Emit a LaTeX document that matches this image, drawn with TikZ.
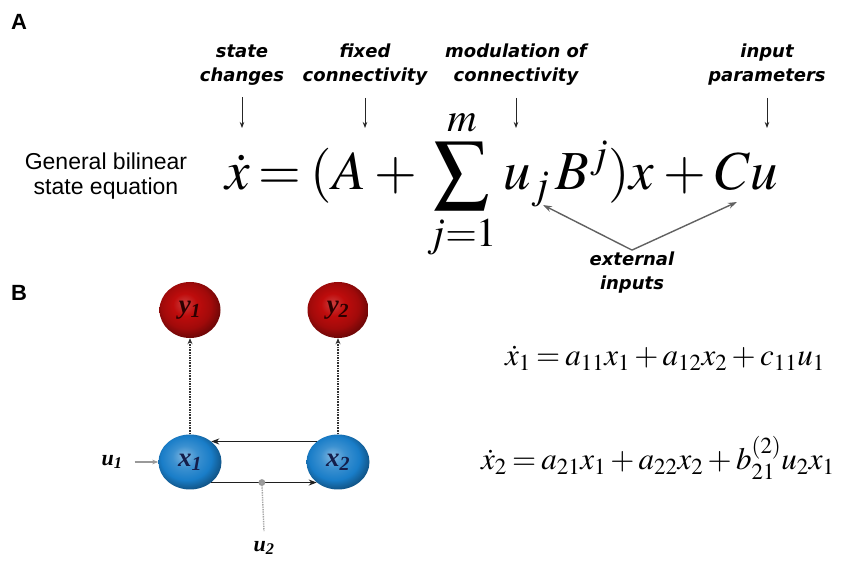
\documentclass[tikz,border=0pt]{standalone}
\usepackage{mathptmx}
\usepackage[no-math]{fontspec}
\newfontfamily\lblfont{DejaVu Sans}
\newfontfamily\arl{Liberation Sans}
\newfontfamily\tms{Liberation Serif}
\usetikzlibrary{arrows.meta, positioning, shapes.geometric}
\definecolor{cX}{RGB}{ 25,125,200}
\definecolor{cY}{RGB}{190, 12, 12}
\definecolor{cTx}{RGB}{ 20, 30, 75}
\definecolor{cTy}{RGB}{ 45,  0,  0}
\pgfdeclareradialshading{xball}{\pgfqpoint{-5bp}{6bp}}{%
  color(0bp)=(cX!55!white); color(10bp)=(cX!85!white);
  color(20bp)=(cX); color(27bp)=(cX!70!black); color(50bp)=(cX!40!black)}
\pgfdeclareradialshading{yball}{\pgfqpoint{-5bp}{6bp}}{%
  color(0bp)=(cY!80!white); color(10bp)=(cY);
  color(20bp)=(cY!85!black); color(27bp)=(cY!60!black); color(50bp)=(cY!40!black)}
\tikzset{
  an/.style={font=\lblfont\bfseries\itshape\fontsize{18}{24}\selectfont,
             align=center, inner sep=0pt},
  hd/.style={font=\arl\bfseries\fontsize{22}{24}\selectfont, inner sep=0pt},
  st/.style={ellipse, shading=xball, minimum width=63pt, minimum height=55pt,
             inner sep=0pt, text=cTx, font=\tms\bfseries\itshape\fontsize{27}{27}\selectfont},
  ob/.style={ellipse, shading=yball, minimum width=61pt, minimum height=56pt,
             inner sep=0pt, text=cTy, font=\tms\bfseries\itshape\fontsize{27}{27}\selectfont},
  vl/.style={font=\tms\bfseries\itshape\fontsize{22}{22}\selectfont, inner sep=2pt},
  sa/.style={-{Stealth[length=6pt, width=4.5pt]}, line width=0.8pt, draw=black!85},
  fa/.style={-{Stealth[length=8pt, width=6pt]}, line width=1.8pt, draw=black!88},
  da/.style={-{Stealth[length=6pt, width=5pt]}, line width=1.6pt,
             draw=black!80, densely dotted},
  ga/.style={-{Stealth[length=6pt, width=4.5pt]}, line width=1.1pt, draw=black!40},
  ea/.style={-{Stealth[length=9pt, width=6pt]}, line width=1.4pt, draw=black!62},
  eqn/.style={anchor=base west, inner sep=0pt},
}

\begin{document}
\begin{tikzpicture}[x=1pt, y=1pt]
\useasboundingbox[fill=white] (0,0) rectangle (847,-561);

%% ── Panel A ──────────────────────────────────────────────────────────────────
\node[hd, anchor=west] (pa) at (11,-22) {A};

\node[an] (chg) at (242,-65) {state\\changes};
\node[an] (fix) at (365,-65) {fixed\\connectivity};
\node[an] (mod) at (516,-65) {modulation of\\connectivity};
\node[an] (inp) at (767,-65) {input\\parameters};

\coordinate (tChg) at (242,-128);
\coordinate (tFix) at (365,-128);
\coordinate (tMod) at (516,-128);
\coordinate (tInp) at (767,-128);

\draw[sa] ([yshift=-12pt]chg.south) -- (tChg);
\draw[sa] ([yshift=-12pt]fix.south) -- (tFix);
\draw[sa] ([yshift=-12pt]mod.south) -- (tMod);
\draw[sa] ([yshift=-12pt]inp.south) -- (tInp);

\node[font=\arl\fontsize{23}{25}\selectfont, align=center, inner sep=0pt]
  (gen) at (106,-176) {General bilinear\\state equation};

\node[eqn, font=\fontsize{55}{60}\selectfont] (eq) at (225,-190)
  {$\thickmuskip=3mu \medmuskip=3mu
    \displaystyle \dot{x} = (A+\sum_{j=1}^{m} u_{j}\,B^{j})x + Cu$};

%% ── External inputs ──────────────────────────────────────────────────────────
\node[an] (ext) at (632,-273) {external\\inputs};
\coordinate (tUj) at (543,-205);
\coordinate (tCu) at (737,-202);
\draw[ea] ([yshift=2pt]ext.north) -- (tUj);
\draw[ea] ([yshift=2pt]ext.north) -- (tCu);

%% ── Panel B ──────────────────────────────────────────────────────────────────
\node[hd, anchor=west] (pb) at (11,-293) {B};

\node[ob] (y1) at (190,-310) {y\textsubscript{1}};
\node[ob] (y2) at (338,-310) {y\textsubscript{2}};
\node[st] (x1) at (190,-462) {x\textsubscript{1}};
\node[st] (x2) at (338,-462) {x\textsubscript{2}};

\draw[da] (x1.north) -- (y1.south);
\draw[da] (x2.north) -- (y2.south);

\draw[fa] (x2.136) -- (x1.44);
\draw[fa] (x1.-44) -- coordinate[pos=0.48] (m2) (x2.-136);
\fill[black!40] (m2) circle (3.4pt);

\node[vl] (u1) at (112,-462) {u\textsubscript{1}};
\node[vl] (u2) at (264,-548) {u\textsubscript{2}};
\draw[ga] ([xshift=10pt]u1.east) -- (x1.west);
\draw[line width=1.4pt, draw=black!35, densely dotted] (m2) -- ([yshift=8pt]u2.north);

%% ── Node equations ───────────────────────────────────────────────────────────
\node[eqn, font=\fontsize{31}{36}\selectfont] (e1) at (505,-366)
  {$\medmuskip=2.5mu \thickmuskip=3mu
    \dot{x}_1 = a_{11}x_1 + a_{12}x_2 + c_{11}u_1$};
\node[eqn, font=\fontsize{31}{36}\selectfont] (e2) at (481,-470)
  {$\medmuskip=2.5mu \thickmuskip=3mu
    \dot{x}_2 = a_{21}x_1 + a_{22}x_2 + b_{21}^{(2)}u_2x_1$};

\end{tikzpicture}
\end{document}
